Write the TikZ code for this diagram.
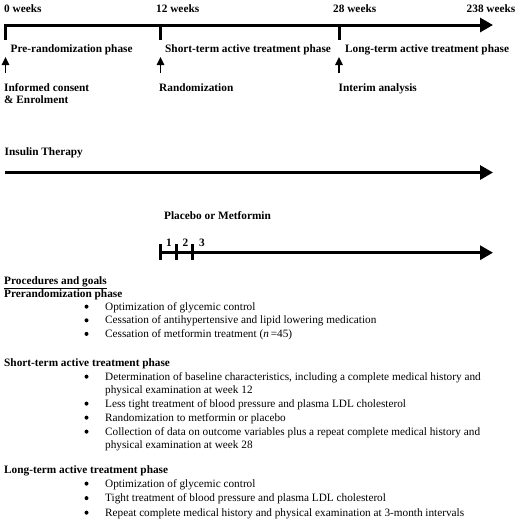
\documentclass[tikz,border=0pt]{standalone}
\usepackage{fontspec}
\setmainfont{Liberation Serif}
\usetikzlibrary{arrows.meta}
\begin{document}
\begin{tikzpicture}[x=1pt,y=-1pt,
  lbl/.style={anchor=base west, inner sep=0pt, font=\bfseries\fontsize{11.3}{13}\selectfont},
  body/.style={anchor=base west, inner sep=0pt, font=\fontsize{11.25}{13}\selectfont},
  bul/.style={circle, fill=black, inner sep=0pt, minimum size=4pt, yshift=3.4pt},
  thick3/.style={line width=3pt},
  bigarrow/.style={line width=3pt, miter limit=10, -{Triangle[length=13pt,width=14pt]}},
  smallarrow/.style={line width=1.4pt, -{Triangle[length=8pt,width=7.5pt]}}]
\useasboundingbox[fill=white] (0,0) rectangle (520,520);
% top timeline
\coordinate (t0b) at (5.5,40);
\coordinate (t0) at (5.5,25);
\coordinate (tend) at (493,25);
\coordinate (t12) at (160.5,25);
\coordinate (t12b) at (160.5,40);
\coordinate (t28) at (339,25);
\coordinate (t28b) at (339,40);
\draw[bigarrow] (t0b) -- (t0) -- (tend);
\draw[thick3] (t12) -- (t12b);
\draw[thick3] (t28) -- (t28b);
\node[lbl] (w0) at (4,12) {0 weeks};
\node[lbl] (w12) at (156,12) {12 weeks};
\node[lbl] (w28) at (333,12) {28 weeks};
\node[lbl] (w238) at (466.5,12) {238 weeks};
\node[lbl] (ph1) at (10.5,52) {Pre-randomization phase};
\node[lbl] (ph2) at (165,52) {Short-term active treatment phase};
\node[lbl] (ph3) at (345,52) {Long-term active treatment phase};
% small arrows
\coordinate (a0b) at (5.5,73);
\coordinate (a0t) at (5.5,57);
\coordinate (a12b) at (160.5,73);
\coordinate (a12t) at (160.5,57);
\coordinate (a28b) at (339,73);
\coordinate (a28t) at (339,57);
\draw[smallarrow] (a0b) -- (a0t);
\draw[smallarrow] (a12b) -- (a12t);
\draw[smallarrow] (a28b) -- (a28t);
\node[lbl] (ic) at (4,91) {Informed consent};
\node[lbl] (en) at (4,103.5) {\& Enrolment};
\node[lbl] (rz) at (159,91) {Randomization};
\node[lbl] (ia) at (338.5,91) {Interim analysis};
% insulin
\node[lbl] (ins) at (4.5,155) {Insulin Therapy};
\coordinate (i0) at (5,172.5);
\coordinate (iend) at (493,172.5);
\draw[bigarrow] (i0) -- (iend);
% placebo
\node[lbl] (pm) at (164,219) {Placebo or Metformin};
\coordinate (p0) at (160.7,252.7);
\coordinate (pend) at (493,252.7);
\draw[bigarrow] (p0) -- (pend);
\foreach \x/\n in {160.7/1,176.7/2,192.7/3}{
  \draw[thick3] (\x,244) -- (\x,260);
}
\node[lbl] (n1) at (166,246) {1};
\node[lbl] (n2) at (182.5,246) {2};
\node[lbl] (n3) at (199,246) {3};
% procedures
\node[lbl] (pg) at (4,284) {\underline{Procedures and goals}};
\node[lbl] (h1) at (4,297) {Prerandomization phase};
\foreach \y/\t in {310/{Optimization of glycemic control},
                   323.7/{Cessation of antihypertensive and lipid lowering medication},
                   337.3/{Cessation of metformin treatment (\textit{n}\,=45)}}{
  \node[bul] at (86.5,\y) {};
  \node[body] at (105,\y) {\t};
}
\node[lbl] (h2) at (4,366) {Short-term active treatment phase};
\node[bul] (b1) at (86.5,380) {};
\node[body] (d1) at (105,380) {Determination of baseline characteristics, including a complete medical history and};
\node[body] (d1b) at (105,393) {physical examination at week 12};
\node[bul] (b2) at (86.5,407) {};
\node[body] (d2) at (105,407) {Less tight treatment of blood pressure and plasma LDL cholesterol};
\node[bul] (b3) at (86.5,421) {};
\node[body] (d3) at (105,421) {Randomization to metformin or placebo};
\node[bul] (b4) at (86.5,435) {};
\node[body] (d4) at (105,435) {Collection of data on outcome variables plus a repeat complete medical history and};
\node[body] (d4b) at (105,448) {physical examination at week 28};
\node[lbl] (h3) at (4,473) {Long-term active treatment phase};
\node[bul] (b5) at (86.5,487) {};
\node[body] (l1) at (105,487) {Optimization of glycemic control};
\node[bul] (b6) at (86.5,501.5) {};
\node[body] (l2) at (105,501.5) {Tight treatment of blood pressure and plasma LDL cholesterol};
\node[bul] (b7) at (86.5,516) {};
\node[body] (l3) at (105,516) {Repeat complete medical history and physical examination at 3-month intervals};
\end{tikzpicture}
\end{document}
